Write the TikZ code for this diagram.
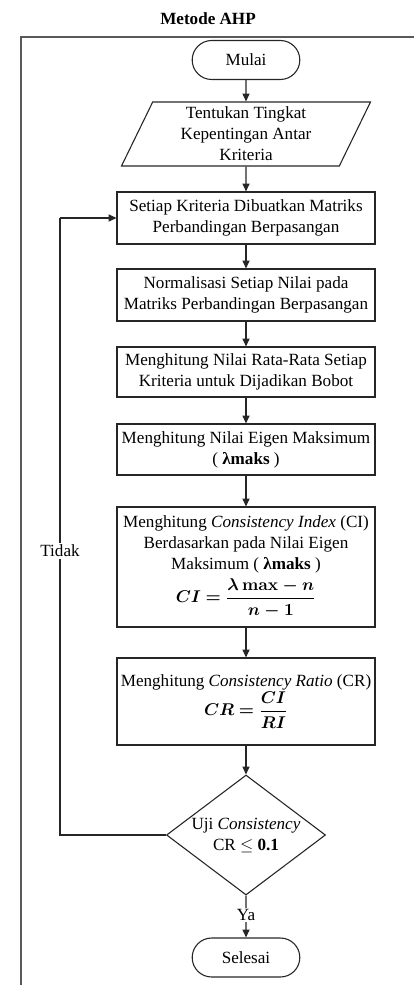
\documentclass[tikz,border=0pt]{standalone}
\usepackage{fontspec}
\setmainfont{Liberation Serif}
\usepackage{amsmath}
\usepackage{bm}
\usepackage{tikz}
\usetikzlibrary{shapes.geometric}
\usetikzlibrary{shapes.misc}
\usetikzlibrary{arrows.meta}
\usetikzlibrary{positioning}
\newcommand{\pxu}{0.0226cm}

\tikzset{
  proses/.style={draw=black!85, line width=0.7pt, rectangle, align=center,
    minimum width=258*\pxu, inner sep=1pt, font=\fontsize{11}{13.5}\selectfont},
  terminal/.style={draw=black!85, line width=0.7pt, rounded rectangle,
    minimum width=118*\pxu, minimum height=39*\pxu, font=\fontsize{11}{13.5}\selectfont},
  masukan/.style={draw=black!85, line width=0.7pt, trapezium, trapezium left angle=60,
    trapezium right angle=120, trapezium stretches body, align=center,
    minimum width=249*\pxu, minimum height=64*\pxu, inner sep=0pt, font=\fontsize{11}{13.5}\selectfont},
  keputusan/.style={draw=black!85, line width=0.7pt, diamond, aspect=1.32, align=center,
    minimum width=159*\pxu, minimum height=120*\pxu, inner sep=0pt, font=\fontsize{11}{13.5}\selectfont},
  panah/.style={line width=0.7pt, draw=black!85, -{Triangle[length=5pt,width=4.5pt]}},
  garis/.style={line width=0.7pt, draw=black!85},
  ket/.style={fill=white, inner sep=1pt, font=\fontsize{11}{13.5}\selectfont},
}

\begin{document}
\begin{tikzpicture}[x=\pxu, y=-\pxu]
\useasboundingbox (0,0) rectangle (414,985);
% bingkai luar
\draw[line width=1pt, draw=black!65] (21,985) -- (21,37) -- (414,37);
\node[font=\fontsize{11}{13.5}\selectfont\bfseries] (judul) at (208,19) {Metode AHP};

\node[terminal] (mulai) at (246,60) {Mulai};
\node[masukan] (tingkat) at (246,134) {Tentukan Tingkat\\Kepentingan Antar\\Kriteria};
\node[proses, minimum height=52*\pxu] (matriks) at (246,218) {Setiap Kriteria Dibuatkan Matriks\\Perbandingan Berpasangan};
\node[proses, minimum height=52*\pxu] (normal) at (246,295) {Normalisasi Setiap Nilai pada\\Matriks Perbandingan Berpasangan};
\node[proses, minimum height=50*\pxu] (bobot) at (246,372) {Menghitung Nilai Rata-Rata Setiap\\Kriteria untuk Dijadikan Bobot};
\node[proses, minimum height=51*\pxu] (eigen) at (246,449.5) {Menghitung Nilai Eigen Maksimum\\( \textbf{λmaks} )};
\node[proses, minimum height=120*\pxu] (ci) at (246,567) {Menghitung \textit{Consistency Index} (CI)\\Berdasarkan pada Nilai Eigen\\Maksimum ( \textbf{λmaks} )\\[2pt]
  $\bm{CI=\dfrac{\lambda\,\mathbf{max}-n}{n-1}}$};
\node[proses, minimum height=87*\pxu] (cr) at (246,701.5) {Menghitung \textit{Consistency Ratio} (CR)\\
  $\bm{CR=\dfrac{CI}{RI}}$};
\node[keputusan] (uji) at (246,835) {Uji \textit{Consistency}\\CR $\leq$ \textbf{0.1}};
\node[terminal] (selesai) at (246,957.5) {Selesai};

\coordinate (balik) at (60,218);

\draw[panah] (mulai) -- (tingkat);
\draw[panah] (tingkat) -- (matriks);
\draw[panah] (matriks) -- (normal);
\draw[panah] (normal) -- (bobot);
\draw[panah] (bobot) -- (eigen);
\draw[panah] (eigen) -- (ci);
\draw[panah] (ci) -- (cr);
\draw[panah] (cr) -- (uji);
\draw[panah] (uji) -- (selesai);
\draw[garis] (uji.west) -| (balik);
\draw[panah] (balik) -- (matriks.west);

\node[ket] (tidak) at (60,551) {Tidak};
\node[ket] (ya) at (246,915) {Ya};
\end{tikzpicture}
\end{document}
